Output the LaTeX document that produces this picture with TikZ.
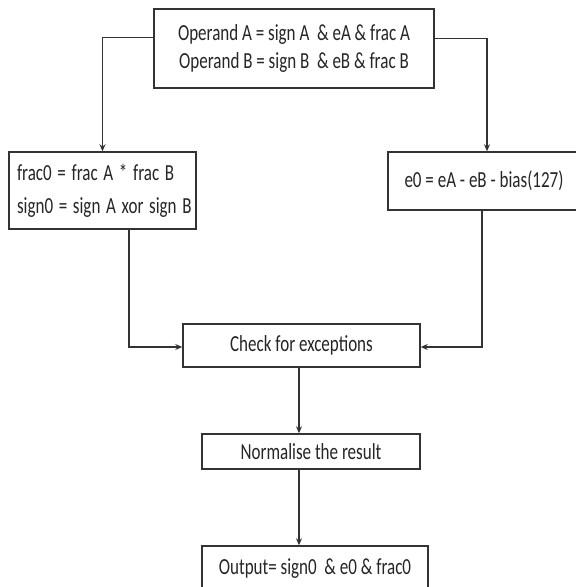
\documentclass[tikz,border=0pt]{standalone}
\usepackage{fontspec}
\setmainfont{Carlito}
\usetikzlibrary{arrows.meta}

% narrow the letters as in the reference
\newcommand{\narrowtxt}[1]{\scalebox{0.74}[1]{#1}}

\tikzset{
    blockbox/.style={draw=black!80, line width=1.5pt, inner sep=0pt, align=center,
        font=\fontsize{23}{28}\selectfont, text=black!85},
    flow/.style={draw=black!80, line width=1.5pt, -{Stealth[length=7pt,width=6pt]}}
}

\begin{document}
\begin{tikzpicture}[x=1pt,y=-1pt]
    \useasboundingbox[fill=white] (0,0) rectangle (576,587);

    % Draw the operand box at the top
    \node[blockbox, minimum width=280, minimum height=79] (opnd) at (294,48.5)
        {\narrowtxt{Operand A = sign A\ \ \& eA \& frac A}\\\narrowtxt{Operand B = sign B\ \ \& eB \& frac B}};

    % Draw the two boxes of the middle row
    \node[blockbox, minimum width=187, minimum height=77, text width=171, align=left,
        font=\fontsize{23}{33}\selectfont] (fracbox) at (102.5,190.5)
        {\narrowtxt{frac0 = frac A * frac B}\\\narrowtxt{sign0 = sign A xor sign B}};
    \node[blockbox, minimum width=192, minimum height=58] (expbox) at (484,181)
        {\narrowtxt{e0 = eA - eB - bias(127)}};

    % Draw the lower boxes
    \node[blockbox, minimum width=237, minimum height=43] (check) at (301.5,345.5)
        {\narrowtxt{Check for exceptions}};
    \node[blockbox, minimum width=218, minimum height=35] (norm) at (311,451.5)
        {\narrowtxt{Normalise the result}};
    \node[blockbox, minimum width=226, minimum height=46] (out) at (315,569)
        {\narrowtxt{Output= sign0\ \ \& e0 \& frac0}};

    % Draw the connectors
    \draw[flow] ([yshift=11pt]opnd.west) -| (fracbox.north);
    \draw[flow] ([yshift=10pt]opnd.east) -| ([xshift=3pt]expbox.north);
    \draw[flow] ([xshift=26.5pt]fracbox.south) |- ([yshift=-1.5pt]check.west);
    \draw[flow] ([xshift=-2pt]expbox.south) |- ([yshift=-1.5pt]check.east);
    \draw[flow] ([xshift=-2.5pt]check.south) -- ([xshift=-2.5pt]check.south |- norm.north);
    \draw[flow] ([xshift=-2.5pt]check.south |- norm.south) -- ([xshift=-2.5pt]check.south |- out.north);

\end{tikzpicture}
\end{document}
